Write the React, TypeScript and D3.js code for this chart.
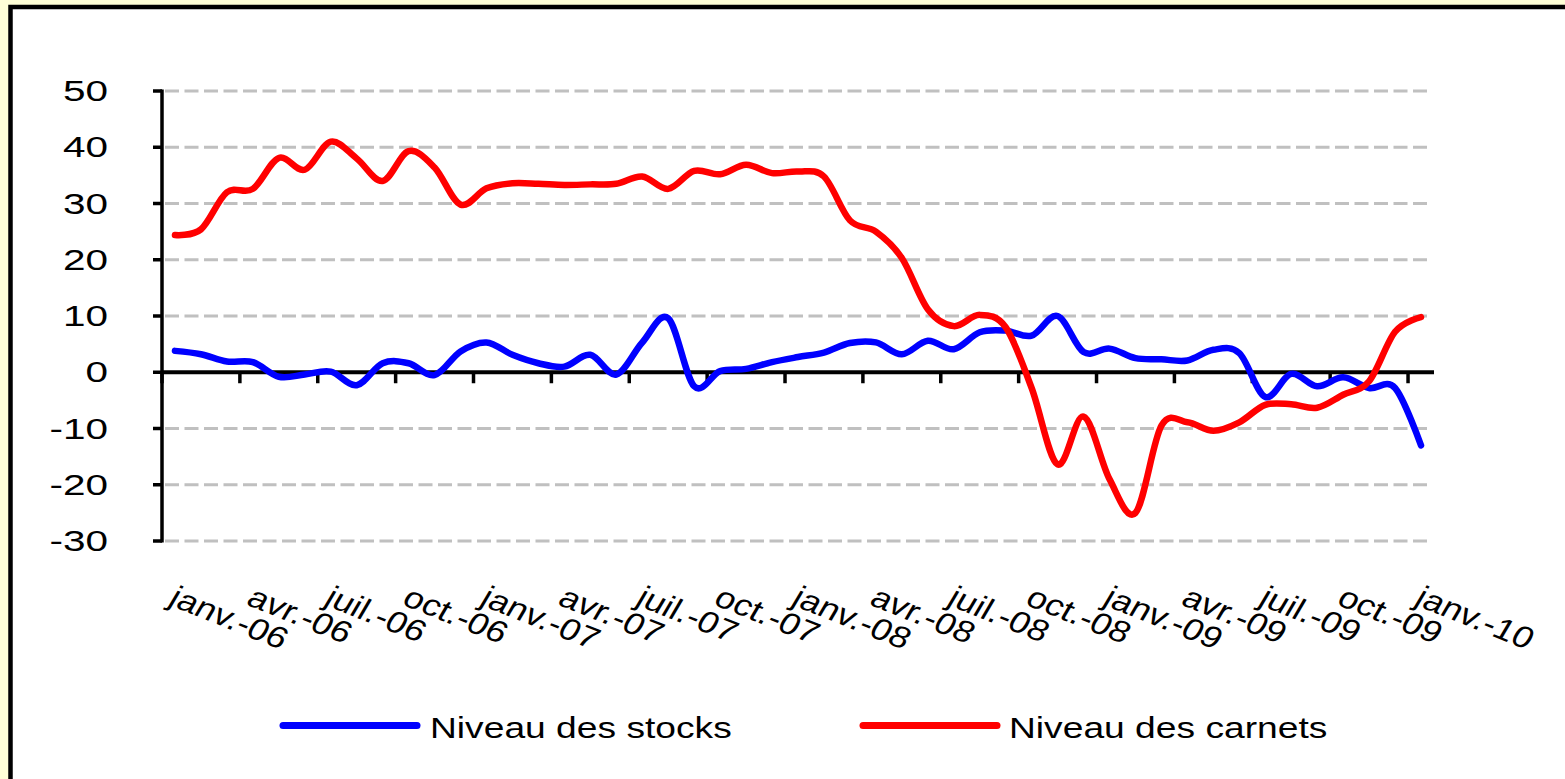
import React from "react";
import * as d3 from "d3";

const months: string[] = [
  "janv.-06","févr.-06","mars-06","avr.-06","mai-06","juin-06","juil.-06","août-06","sept.-06","oct.-06","nov.-06","déc.-06",
  "janv.-07","févr.-07","mars-07","avr.-07","mai-07","juin-07","juil.-07","août-07","sept.-07","oct.-07","nov.-07","déc.-07",
  "janv.-08","févr.-08","mars-08","avr.-08","mai-08","juin-08","juil.-08","août-08","sept.-08","oct.-08","nov.-08","déc.-08",
  "janv.-09","févr.-09","mars-09","avr.-09","mai-09","juin-09","juil.-09","août-09","sept.-09","oct.-09","nov.-09","déc.-09",
  "janv.-10",
];

const stocks: number[] = [
  3.8, 3.2, 1.9, 1.8, -0.8, -0.4, 0.1, -2.3, 1.6, 1.6, -0.5, 3.7,
  5.3, 3.1, 1.6, 1.0, 3.1, -0.4, 5.3, 9.6, -2.5, 0.2, 0.6, 1.8,
  2.7, 3.5, 5.2, 5.3, 3.2, 5.6, 4.1, 7.1, 7.4, 6.5, 10.0, 3.6,
  4.2, 2.5, 2.3, 2.1, 4.0, 3.4, -4.4, -0.3, -2.5, -0.9, -2.8, -2.8,
  -13.0,
];

const carnets: number[] = [
  24.4, 25.4, 32.0, 32.6, 38.1, 36.0, 41.0, 38.0, 34.0, 39.3, 36.4, 29.8,
  32.7, 33.6, 33.5, 33.3, 33.4, 33.5, 34.8, 32.6, 35.8, 35.2, 36.9, 35.4,
  35.7, 34.8, 27.0, 25.0, 20.3, 11.2, 8.2, 10.2, 8.0, -2.8, -16.4, -7.9,
  -19.0, -25.0, -9.5, -8.9, -10.4, -8.9, -5.8, -5.7, -6.3, -4.0, -1.6, 7.2,
  9.8,
];

const yTicks: number[] = [-30, -20, -10, 0, 10, 20, 30, 40, 50];
const xTickLabels: string[] = [
  "janv.-06","avr.-06","juil.-06","oct.-06","janv.-07","avr.-07","juil.-07","oct.-07",
  "janv.-08","avr.-08","juil.-08","oct.-08","janv.-09","avr.-09","juil.-09","oct.-09","janv.-10",
];
const seriesNames: string[] = ["Niveau des stocks", "Niveau des carnets"];
const seriesColors: string[] = ["#0000FF", "#FF0000"];

const W = 1565;
const H = 779;
const FONT = "'Liberation Sans', Arial, sans-serif";

export default function App() {
  const x = d3.scaleBand<number>().domain(d3.range(months.length)).range([162, 1434]).paddingInner(0).paddingOuter(0);
  const bw = x.bandwidth();
  const xc = (i: number) => (x(i) as number) + bw / 2;
  const y = d3.scaleLinear().domain([-30, 50]).range([541, 91]);

  const line = d3
    .line<number>()
    .x((_, i) => xc(i))
    .y((d) => y(d))
    .curve(d3.curveCardinal.tension(0));

  const x0 = x(0) as number;
  const xEnd = x0 + bw * months.length;
  const tickIdx = d3.range(0, months.length, 3);

  return (
    <svg
      width={W}
      height={H}
      style={{ position: "absolute", left: 0, top: 0, display: "block" }}
      fontFamily={FONT}
    >
      <rect x={0} y={0} width={W} height={H} fill="#FFFFD7" />
      <rect x={10.5} y={7} width={1700} height={900} fill="#FFFFFF" stroke="#000" strokeWidth={4.5} />

      {/* gridlines */}
      {yTicks.filter((t) => t !== 0).map((t) => (
        <line
          key={"g" + t}
          x1={x0 + 3}
          x2={xEnd - 2}
          y1={y(t)}
          y2={y(t)}
          stroke="#C0C0C0"
          strokeWidth={3.2}
          strokeDasharray="14 5.5"
        />
      ))}

      {/* y axis */}
      <line x1={x0} x2={x0} y1={y(50) - 1.5} y2={y(-30) + 1.5} stroke="#000" strokeWidth={3.5} />
      {yTicks.map((t) => (
        <g key={"yt" + t}>
          <line x1={x0 - 9} x2={x0} y1={y(t)} y2={y(t)} stroke="#000" strokeWidth={3.5} />
          <text
            transform={`translate(${x0 - 54},${y(t) + 10}) scale(1.35,1)`}
            textAnchor="end"
            fontSize={30}
            fill="#000"
          >
            {t}
          </text>
        </g>
      ))}

      {/* x axis */}
      <line x1={x0} x2={xEnd} y1={y(0)} y2={y(0)} stroke="#000" strokeWidth={4} />
      {tickIdx.map((i) => (
        <line
          key={"xt" + i}
          x1={x(i) as number}
          x2={x(i) as number}
          y1={y(0)}
          y2={y(0) + 11}
          stroke="#000"
          strokeWidth={3.5}
        />
      ))}
      {tickIdx.map((i, k) => (
        <text
          key={"xl" + i}
          transform={`translate(${xc(i) - 8},${604}) scale(1.21,1) rotate(26)`}
          fontSize={30}
          fill="#000"
        >
          {xTickLabels[k]}
        </text>
      ))}

      {/* series */}
      {[stocks, carnets].map((s, k) => (
        <path
          key={"s" + k}
          d={line(s) || ""}
          fill="none"
          stroke={seriesColors[k]}
          strokeWidth={6.5}
          strokeLinejoin="round"
          strokeLinecap="round"
        />
      ))}

      {/* legend */}
      {[
        { lx: 283, tx: 430 },
        { lx: 863, tx: 1009 },
      ].map((p, k) => (
        <g key={"lg" + k}>
          <line x1={p.lx} x2={p.lx + 134} y1={725.5} y2={725.5} stroke={seriesColors[k]} strokeWidth={7} strokeLinecap="round" />
          <text transform={`translate(${p.tx},738) scale(1.24,1)`} fontSize={30} fill="#000">
            {seriesNames[k]}
          </text>
        </g>
      ))}
    </svg>
  );
}
